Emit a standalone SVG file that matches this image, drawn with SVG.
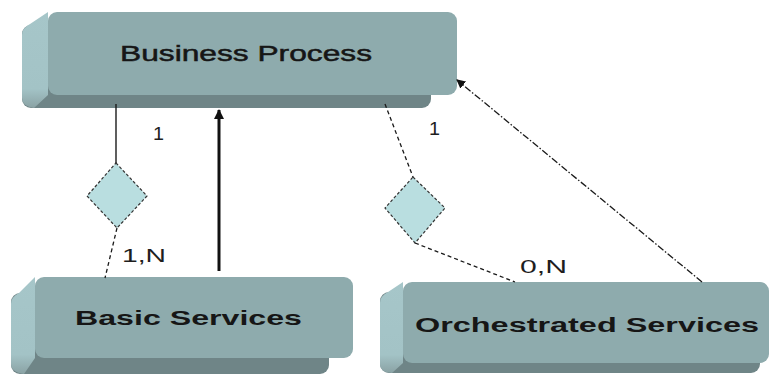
<svg xmlns="http://www.w3.org/2000/svg" width="772" height="374" viewBox="0 0 772 374">
<style>
.front{fill:#8eabad}
.left{fill:url(#lg)}
.bottom{fill:#6f8587}
.title{font-family:"Liberation Sans",Arial,sans-serif;fill:#161616}
.lbl{font-family:"Liberation Sans",Arial,sans-serif;fill:#1e1e1e;font-size:18px}
.dia{fill:#b9dee0;stroke:#333;stroke-width:1.2;stroke-dasharray:3,2}
.solid{stroke:#1a1a1a;stroke-width:1.4;fill:none}
.dash{stroke:#1a1a1a;stroke-width:1.3;fill:none;stroke-dasharray:4,3}
.dashdot{stroke:#1a1a1a;stroke-width:1.3;fill:none;stroke-dasharray:7,2,1.5,2}
</style>
<defs>
<linearGradient id="lg" x1="0" y1="0" x2="0" y2="1">
<stop offset="0" stop-color="#a6c6c9"/>
<stop offset="0.8" stop-color="#a3c3c6"/>
<stop offset="1" stop-color="#8aa2a4"/>
</linearGradient>
<marker id="ah" markerWidth="10" markerHeight="10" refX="9" refY="5" orient="auto" markerUnits="userSpaceOnUse">
<path d="M0,0 L10,5 L0,10 Z" fill="#111"/>
</marker>
<marker id="ah2" markerWidth="9" markerHeight="9" refX="8" refY="4.5" orient="auto" markerUnits="userSpaceOnUse">
<path d="M0,0 L9,4.5 L0,9 Z" fill="#111"/>
</marker>
</defs>

<g id="business-process">
<rect class="bottom" x="22" y="25" width="409" height="83" rx="9"/>
<path class="left" d="M22,35 Q22,28 30,24 L48,12 L48,95 L34,108 Q22,106 22,98 Z"/>
<rect class="front" x="48" y="12" width="409" height="83" rx="9"/>
<text class="title" x="120" y="61" font-size="22" stroke="#161616" stroke-width="0.5" textLength="252" lengthAdjust="spacingAndGlyphs">Business Process</text>
</g>

<g id="basic-services">
<rect class="bottom" x="11" y="293" width="318" height="81" rx="9"/>
<path class="left" d="M11,304 Q11,297 19,293 L35,277 L35,358 L24,374 Q11,372 11,364 Z"/>
<rect class="front" x="35" y="277" width="318" height="81" rx="9"/>
<text class="title" x="75" y="325" font-size="21" font-weight="bold" textLength="227" lengthAdjust="spacingAndGlyphs">Basic Services</text>
</g>

<g id="orchestrated-services">
<rect class="bottom" x="380" y="292" width="380" height="81" rx="9"/>
<path class="left" d="M380,303 Q380,296 388,292 L403,282 L403,363 L392,373 Q380,372 380,365 Z"/>
<rect class="front" x="403" y="282" width="366" height="81" rx="9"/>
<text class="title" x="415" y="332" font-size="20" font-weight="bold" textLength="344" lengthAdjust="spacingAndGlyphs">Orchestrated Services</text>
</g>

<g id="rel-basic">
<polygon class="dia" points="116,163 147,196 117,228 87,196"/>
</g>

<g id="rel-orchestrated">
<polygon class="dia" points="413,177 445,208 415,243 385,208"/>
</g>

<g id="connectors">
<line class="solid" x1="116" y1="104" x2="116" y2="163"/>
<line class="dash" x1="117" y1="228" x2="105" y2="278"/>
<line x1="219" y1="271" x2="219" y2="110" stroke="#111" stroke-width="3" marker-end="url(#ah)"/>
<line class="dash" x1="385" y1="104" x2="413" y2="177"/>
<line class="dash" x1="415" y1="243" x2="515" y2="282"/>
<line class="dashdot" x1="702" y1="282" x2="457" y2="80" marker-end="url(#ah2)"/>
<text class="lbl" x="153" y="140" textLength="11" lengthAdjust="spacingAndGlyphs">1</text>
<text class="lbl" x="122" y="262" font-size="20" textLength="44" lengthAdjust="spacingAndGlyphs">1,N</text>
<text class="lbl" x="429" y="135" textLength="11" lengthAdjust="spacingAndGlyphs">1</text>
<text class="lbl" x="520" y="273" font-size="20" textLength="47" lengthAdjust="spacingAndGlyphs">0,N</text>
</g>
</svg>
